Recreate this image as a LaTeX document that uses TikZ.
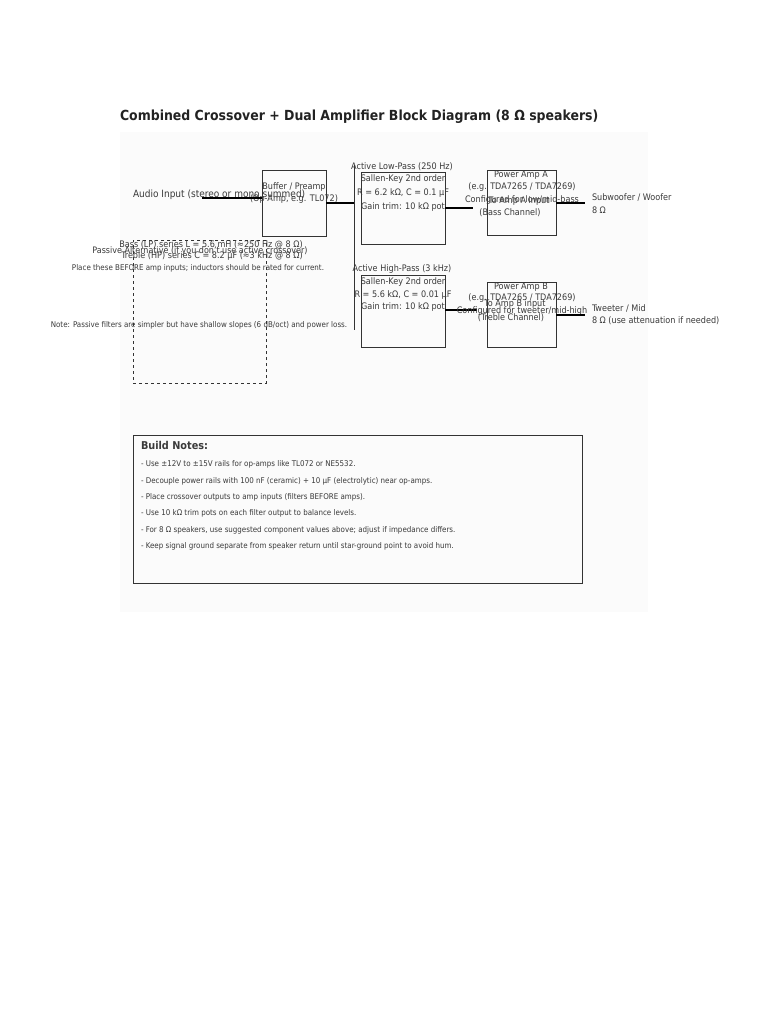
\documentclass[tikz,border=0pt]{standalone}
\usepackage{fontspec}
\setmainfont{DejaVu Sans Condensed}
\definecolor{txt}{HTML}{3A3A3A}
\definecolor{ttl}{HTML}{222222}
\definecolor{edge}{HTML}{333333}
\definecolor{bg}{HTML}{FBFBFB}
\begin{document}
\begin{tikzpicture}[x=1pt,y=-1pt,
  every node/.style={inner sep=0pt,outer sep=0pt,text=txt},
  lbl/.style={font=\fontsize{9}{10}\selectfont},
  small/.style={font=\fontsize{7.9}{9}\selectfont,anchor=west},
  blk/.style={draw=edge,line width=0.8pt,fill=none},
  wire/.style={draw=black,line width=1.4pt}]
\useasboundingbox (0,0) rectangle (768,1024);
\fill[bg] (120,132) rectangle (648,612);
% title
\node[anchor=west,text=ttl,font=\bfseries\fontsize{13.9}{15}\selectfont] (title) at (120,117) {Combined Crossover + Dual Amplifier Block Diagram (8 Ω speakers)};
% input
\node[anchor=west,font=\fontsize{10}{11}\selectfont] (in) at (133,195) {Audio Input (stereo or mono summed)};
% buffer
\node[blk,minimum width=64pt,minimum height=66pt] (buf) at (294,203) {};
\node[lbl] (buf1) at (294,187) {Buffer / Preamp};
\node[lbl] (buf2) at (294,199) {(Op-Amp, e.g. TL072)};
\coordinate (inS) at (202,198);
\coordinate (bufW) at (buf.west|-inS);
\draw[wire] (inS) -- (bufW);
% bus
\coordinate (busT) at (354,165);
\coordinate (busB) at (354,330);
\coordinate (busM) at (354,203);
\draw[edge,line width=1pt] (busT) -- (busB);
\draw[wire] (buf.east|-busM) -- (busM);
% low-pass
\node[blk,minimum width=84pt,minimum height=72pt] (lp) at (403,208) {};
\node[lbl] (lpl) at (402,167) {Active Low-Pass (250 Hz)};
\node[lbl] (lp1) at (403,179) {Sallen-Key 2nd order};
\node[lbl] (lp2) at (403,193) {R = 6.2 kΩ, C = 0.1 µF};
\node[lbl] (lp3) at (403,207) {Gain trim: 10 kΩ pot};
\coordinate (lpE) at (473,208);
\draw[wire] (lp.east|-lpE) -- (lpE);
% high-pass
\node[blk,minimum width=84pt,minimum height=72pt] (hp) at (403,311) {};
\node[lbl] (hpl) at (402,269) {Active High-Pass (3 kHz)};
\node[lbl] (hp1) at (403,282) {Sallen-Key 2nd order};
\node[lbl] (hp2) at (403,295) {R = 5.6 kΩ, C = 0.01 µF};
\node[lbl] (hp3) at (403,307) {Gain trim: 10 kΩ pot};
\coordinate (hpE) at (477,310);
\draw[wire] (hp.east|-hpE) -- (hpE);
% amp A
\node[blk,minimum width=69pt,minimum height=65pt] (ampa) at (521.5,202.5) {};
\node[lbl] (a1) at (521,175) {Power Amp A};
\node[lbl] (a2) at (522,187) {(e.g. TDA7265 / TDA7269)};
\node[lbl] (a3) at (522,200) {Configured for low/mid-bass};
\node[lbl] (a4) at (519,201) {To Amp A input};
\node[lbl] (a5) at (510,213) {(Bass Channel)};
\coordinate (aE) at (585,203);
\draw[wire] (ampa.east|-aE) -- (aE);
\node[lbl,anchor=west] (sw1) at (592,197) {Subwoofer / Woofer};
\node[lbl,anchor=west] (sw2) at (592,210) {8 Ω};
% amp B
\node[blk,minimum width=69pt,minimum height=65pt] (ampb) at (521.5,314.5) {};
\node[lbl] (b1) at (521,287) {Power Amp B};
\node[lbl] (b2) at (522,298) {(e.g. TDA7265 / TDA7269)};
\node[lbl] (b4) at (515,304) {To Amp B input};
\node[lbl] (b3) at (522,311) {Configured for tweeter/mid-high};
\node[lbl] (b5) at (511,318) {(Treble Channel)};
\coordinate (bE) at (585,315);
\draw[wire] (ampb.east|-bE) -- (bE);
\node[lbl,anchor=west] (tw1) at (592,308) {Tweeter / Mid};
\node[lbl,anchor=west] (tw2) at (592,321) {8 Ω (use attenuation if needed)};
% passive
\node[draw=edge,dashed,line width=0.8pt,minimum width=133pt,minimum height=143pt] (pas) at (199.5,311.5) {};
\node[font=\fontsize{9}{10}\selectfont] (p0) at (211,245) {Bass (LP) series L = 5.6 mH (≈250 Hz @ 8 Ω)};
\node[font=\fontsize{8.9}{10}\selectfont] (p1) at (200,251) {Passive Alternative (if you don't use active crossover)};
\node[font=\fontsize{9}{10}\selectfont] (p2) at (212,256) {Treble (HP) series C = 8.2 µF (≈3 kHz @ 8 Ω)};
\node[font=\fontsize{7.9}{9}\selectfont] (p3) at (198,268) {Place these BEFORE amp inputs; inductors should be rated for current.};
\node[font=\fontsize{7.9}{9}\selectfont] (p4) at (199,325) {Note: Passive filters are simpler but have shallow slopes (6 dB/oct) and power loss.};
% build notes
\node[blk,minimum width=449pt,minimum height=148pt] (notes) at (357.5,509) {};
\node[anchor=west,font=\bfseries\fontsize{10.8}{12}\selectfont] (nt) at (141,445) {Build Notes:};
\node[small] (n1) at (141,464) {- Use ±12V to ±15V rails for op-amps like TL072 or NE5532.};
\node[small] (n2) at (141,481) {- Decouple power rails with 100 nF (ceramic) + 10 µF (electrolytic) near op-amps.};
\node[small] (n3) at (141,497) {- Place crossover outputs to amp inputs (filters BEFORE amps).};
\node[small] (n4) at (141,513) {- Use 10 kΩ trim pots on each filter output to balance levels.};
\node[small] (n5) at (141,530) {- For 8 Ω speakers, use suggested component values above; adjust if impedance differs.};
\node[small] (n6) at (141,546) {- Keep signal ground separate from speaker return until star-ground point to avoid hum.};
\end{tikzpicture}
\end{document}
